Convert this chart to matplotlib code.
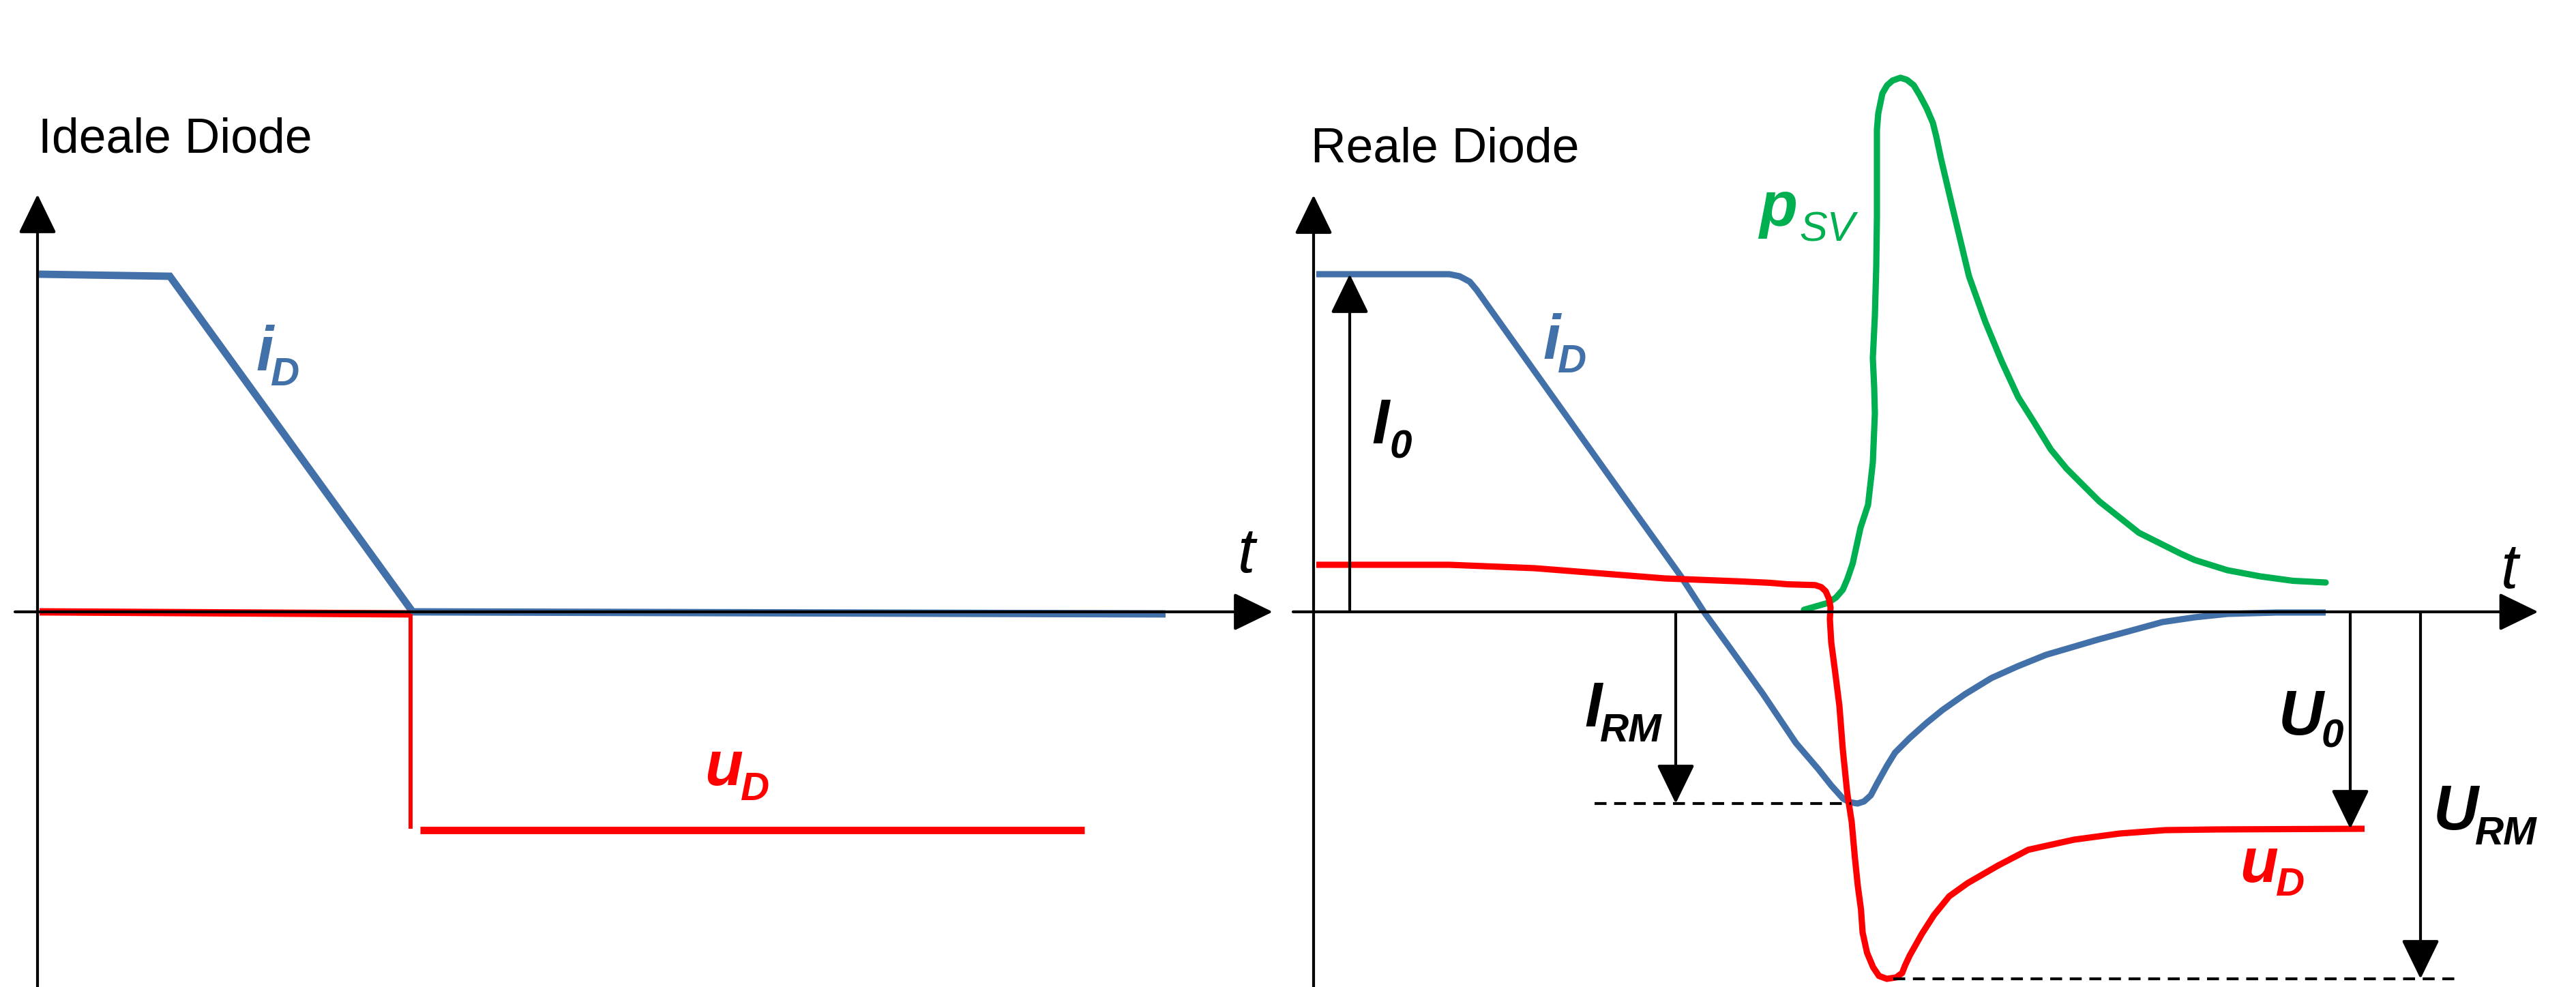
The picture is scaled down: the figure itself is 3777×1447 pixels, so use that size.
import matplotlib
matplotlib.use("Agg")
import matplotlib.pyplot as plt

# ------------------------------------------------------------------
# Data (time t and signal value in arbitrary diagram units)
# ------------------------------------------------------------------
# --- Ideale Diode ---
t_iD_ideal = [0.02, 1.94, 5.50, 16.54]
iD_ideal = [4.95, 4.92, 0.00, -0.03]

t_uD_ideal_on = [0.03, 5.47]
uD_ideal_on = [0.00, -0.03]
t_uD_ideal_step = [5.47, 5.47]
uD_ideal_step = [-0.03, -3.18]
t_uD_ideal_off = [5.61, 15.35]
uD_ideal_off = [-3.20, -3.20]

# --- Reale Diode ---
t_iD_real = [0.04, 1.99, 2.14, 2.29, 2.39, 4.52, 5.38, 5.73, 6.11, 6.59, 7.07, 7.40,
             7.59, 7.76, 7.855, 7.975, 8.07, 8.17, 8.26, 8.405, 8.525, 8.74, 8.98,
             9.22, 9.555, 9.94, 10.32, 10.74, 11.15, 11.49, 11.97, 12.445, 12.92,
             13.40, 14.12, 14.84]
iD_real = [4.95, 4.95, 4.92, 4.84, 4.72, 1.73, 0.53, -0.01, -0.535, -1.205, -1.92,
           -2.305, -2.545, -2.735, -2.79, -2.81, -2.78, -2.69, -2.52, -2.26, -2.065,
           -1.85, -1.635, -1.44, -1.205, -0.97, -0.80, -0.63, -0.51, -0.41, -0.28,
           -0.15, -0.08, -0.03, -0.01, -0.01]

t_uD_real = [0.04, 1.99, 3.24, 5.15, 6.24, 6.687, 6.95, 7.356, 7.445, 7.51, 7.557,
             7.58, 7.57, 7.59, 7.646, 7.71, 7.76, 7.825, 7.89, 7.936, 7.98, 8.026,
             8.05, 8.115, 8.204, 8.29, 8.405, 8.54, 8.63, 8.67, 8.74, 8.92, 9.097,
             9.32, 9.59, 10.035, 10.48, 11.15, 11.82, 12.49, 13.24, 15.41]
uD_real = [0.69, 0.69, 0.64, 0.49, 0.447, 0.426, 0.404, 0.392, 0.362, 0.30, 0.192,
           0.064, -0.106, -0.446, -0.87, -1.38, -2.02, -2.658, -3.08, -3.594, -4.02,
           -4.36, -4.70, -4.998, -5.21, -5.338, -5.38, -5.36, -5.295, -5.19, -5.04,
           -4.72, -4.445, -4.17, -3.977, -3.72, -3.488, -3.34, -3.25, -3.20, -3.19,
           -3.18]

t_pSV = [7.19, 7.40, 7.54, 7.66, 7.76, 7.83, 7.905, 8.02, 8.13, 8.20, 8.23, 8.22,
         8.20, 8.23, 8.25, 8.26, 8.26, 8.28, 8.34, 8.41, 8.49, 8.605, 8.70, 8.80,
         8.89, 8.99, 9.08, 9.13, 9.20, 9.37, 9.61, 9.85, 10.09, 10.33, 10.57, 10.81,
         11.04, 11.52, 12.10, 12.72, 12.92, 13.40, 13.88, 14.36, 14.84]
pSV = [0.03, 0.09, 0.13, 0.21, 0.325, 0.49, 0.71, 1.235, 1.57, 2.19, 2.91, 3.29,
       3.72, 4.34, 5.06, 5.78, 7.07, 7.31, 7.60, 7.72, 7.79, 7.83, 7.80, 7.72, 7.57,
       7.38, 7.17, 6.97, 6.64, 5.92, 4.92, 4.25, 3.67, 3.15, 2.77, 2.38, 2.10, 1.62,
       1.16, 0.85, 0.76, 0.61, 0.52, 0.455, 0.43]

# characteristic quantities
I0 = iD_real[0]
IRM = min(iD_real)
U0 = uD_real[-1]
URM = min(uD_real)

# ------------------------------------------------------------------
# Styles
# ------------------------------------------------------------------
BLUE = "#4270A8"
RED = "#FF0000"
GREEN = "#00B050"
FONT = "Liberation Sans"
LW_AX = 3.0
LW_L = 7.8
LW_R = 6.6
HEAD = "-|>,head_length=36,head_width=17.5"

fig = plt.figure(figsize=(37.77, 14.47), dpi=100)
fig.patch.set_facecolor("white")

ax_l = fig.add_axes([0.0, 0.0, 1890 / 3777, 1.0])
ax_r = fig.add_axes([1890 / 3777, 0.0, 1887 / 3777, 1.0])
ax_l.set_xlim(-0.55, 18.35)
ax_r.set_xlim(-0.36, 18.51)
for ax in (ax_l, ax_r):
    ax.set_ylim(-5.50, 8.97)
    ax.axis("off")


def arrow(ax, x0, y0, x1, y1):
    ax.annotate("", xy=(x1, y1), xytext=(x0, y0),
                arrowprops=dict(arrowstyle=HEAD, mutation_scale=1, lw=LW_AX,
                                color="black", shrinkA=0, shrinkB=0),
                annotation_clip=False)


def txt(ax, x, y, s, size, color="black", weight="bold", style="italic"):
    ax.text(x, y, s, fontsize=size, color=color, fontweight=weight,
            fontstyle=style, family=FONT, ha="left", va="baseline")


# ---------------- Ideale Diode ----------------
arrow(ax_l, -0.33, 0.0, 18.11, 0.0)
arrow(ax_l, 0.0, -5.8, 0.0, 6.12)

ax_l.plot(t_iD_ideal, iD_ideal, color=BLUE, lw=LW_L,
          solid_capstyle="butt", solid_joinstyle="miter")
ax_l.plot(t_uD_ideal_on, uD_ideal_on, color=RED, lw=LW_L, solid_capstyle="butt")
ax_l.plot(t_uD_ideal_step, uD_ideal_step, color=RED, lw=4.3, solid_capstyle="butt")
ax_l.plot(t_uD_ideal_off, uD_ideal_off, color=RED, lw=LW_L, solid_capstyle="butt")

txt(ax_l, 0.01, 6.74, "Ideale Diode", 51.5, weight="normal", style="normal")
txt(ax_l, 3.20, 3.54, "i", 66, color=BLUE)
txt(ax_l, 3.42, 3.32, "D", 42, color=BLUE)
txt(ax_l, 9.78, -2.545, "u", 66, color=RED)
txt(ax_l, 10.31, -2.76, "D", 42, color=RED)
txt(ax_l, 17.60, 0.58, "t", 66, weight="normal")

# ---------------- Reale Diode ----------------
arrow(ax_r, -0.30, 0.0, 17.955, 0.0)
arrow(ax_r, 0.0, -5.8, 0.0, 6.11)

ax_r.plot(t_pSV, pSV, color=GREEN, lw=LW_R, solid_capstyle="round",
          solid_joinstyle="round")
ax_r.plot(t_iD_real, iD_real, color=BLUE, lw=LW_R, solid_capstyle="butt",
          solid_joinstyle="round")
ax_r.plot(t_uD_real, uD_real, color=RED, lw=LW_R, solid_capstyle="butt",
          solid_joinstyle="round")

dash = (0, (4.2, 2.7))
ax_r.plot([4.12, 7.88], [IRM, IRM], color="black", lw=LW_AX, ls=dash)
ax_r.plot([8.50, 16.82], [URM, URM], color="black", lw=LW_AX, ls=dash)

arrow(ax_r, 0.53, 0.0, 0.53, I0)
arrow(ax_r, 5.31, 0.0, 5.31, IRM)
arrow(ax_r, 15.20, 0.0, 15.20, U0)
arrow(ax_r, 16.23, 0.0, 16.23, URM)

txt(ax_r, -0.045, 6.595, "Reale Diode", 51.5, weight="normal", style="normal")
txt(ax_r, 3.36, 3.71, "i", 66, color=BLUE)
txt(ax_r, 3.58, 3.51, "D", 42, color=BLUE)
txt(ax_r, 6.53, 5.66, "p", 66, color=GREEN)
txt(ax_r, 7.12, 5.44, "SV", 44, color=GREEN, weight="normal")
txt(ax_r, 0.85, 2.47, "I", 66)
txt(ax_r, 1.12, 2.26, "0", 42)
txt(ax_r, 3.97, -1.68, "I", 66)
txt(ax_r, 4.20, -1.90, "RM", 42)
txt(ax_r, 14.15, -1.80, "U", 66)
txt(ax_r, 14.78, -1.99, "0", 42)
txt(ax_r, 16.42, -3.19, "U", 66)
txt(ax_r, 17.03, -3.405, "RM", 42)
txt(ax_r, 13.58, -3.955, "u", 66, color=RED)
txt(ax_r, 14.11, -4.16, "D", 42, color=RED)
txt(ax_r, 17.41, 0.35, "t", 66, weight="normal")

fig.savefig("out.png", dpi=100, facecolor="white")
